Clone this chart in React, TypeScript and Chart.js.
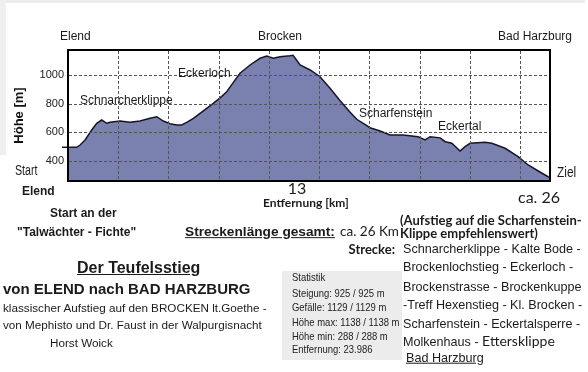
import React, { useEffect, useRef } from "react";
import { Chart, registerables } from "chart.js";

Chart.register(...registerables);

// ---- data ----
const distanceKm = [
  0, 0.43, 0.6, 0.85, 1.18, 1.43, 1.68, 1.93, 2.09, 2.59, 3.09, 3.58, 4.08, 4.42, 4.74, 5.08,
  5.41, 5.66, 5.91, 6.24, 6.57, 6.9, 7.23, 7.57, 7.9, 8.06, 8.56, 9.06, 9.56, 9.89, 10.22,
  10.55, 11.05, 11.2, 11.55, 12.05, 12.54, 13.04, 13.54, 14.04, 14.37, 15.03, 15.53, 16.03,
  16.67, 17.42, 17.77, 18.02, 18.52, 18.77, 19.1, 19.51, 19.76, 20.01, 20.76, 21.09, 21.75,
  22.4, 22.9, 23.4, 23.74, 23.89, 23.986,
];
const elevationM = [
  494, 494, 510, 545, 615, 662, 685, 662, 669, 678, 669, 678, 697, 708, 678, 659,
  650, 650, 669, 697, 732, 767, 802, 840, 883, 915, 1012, 1070, 1117, 1133, 1117,
  1128, 1135, 1138, 1070, 1035, 988, 907, 820, 740, 690, 631, 608, 580,
  580, 568, 545, 568, 560, 533, 522, 468, 498, 522, 529, 522, 487,
  428, 370, 328, 300, 288, 285,
];
const yTickValues = [400, 600, 800, 1000];
const xGridValues = [2.5, 5, 7.5, 10, 12.5, 15, 17.5, 20, 22.5];
const yMin = 258;
const yMax = 1175;
const xMax = 23.986;

const topPlaces = ["Elend", "Brocken", "Bad Harzburg"];
const profileLabels = ["Schnarcherklippe", "Eckerloch", "Scharfenstein", "Eckertal"];
const statLines = [
  "Statistik",
  "Steigung: 925 / 925 m",
  "Gefälle: 1129 / 1129 m",
  "Höhe max: 1138 / 1138 m",
  "Höhe min: 288 / 288 m",
  "Entfernung: 23.986",
];
const routeLines = [
  "Schnarcherklippe - Kalte Bode -",
  "Brockenlochstieg - Eckerloch -",
  "Brockenstrasse - Brockenkuppe",
  "-Treff Hexenstieg - Kl. Brocken -",
  "Scharfenstein - Eckertalsperre -",
  "Molkenhaus - ",
];
const introLines = [
  "klassischer Aufstieg auf den BROCKEN lt.Goethe -",
  "von Mephisto und Dr. Faust in der Walpurgisnacht",
  "Horst Woick",
];

const ARIAL = "'Liberation Sans', Arial, sans-serif";
const CALIBRI = "Lato, 'Liberation Sans', sans-serif";

type TxtProps = {
  x: number;
  y: number;
  size: number;
  bold?: boolean;
  family?: string;
  align?: "left" | "center" | "right";
  underline?: boolean;
  color?: string;
  sx?: number;
  children: React.ReactNode;
};

function Txt({ x, y, size, bold, family, align = "left", underline, color, sx = 1, children }: TxtProps) {
  const tx = align === "left" ? "0" : align === "center" ? "-50%" : "-100%";
  const origin = align === "left" ? "left" : align === "center" ? "center" : "right";
  return (
    <div
      style={{
        position: "absolute",
        left: x,
        top: y,
        transform: `translate(${tx}, -50%) scaleX(${sx})`,
        transformOrigin: `${origin} center`,
        fontSize: size,
        lineHeight: `${size}px`,
        fontFamily: family || ARIAL,
        fontWeight: bold ? 700 : 400,
        textDecoration: underline ? "underline" : "none",
        color: color || "#1b1b1b",
        whiteSpace: "nowrap",
      }}
    >
      {children}
    </div>
  );
}

export default function App() {
  const ref = useRef<HTMLCanvasElement>(null);

  useEffect(() => {
    const canvas = ref.current;
    if (!canvas) return;
    const framePlugin = {
      id: "profileFrame",
      afterDraw(chart: any) {
        const { ctx, chartArea, scales } = chart;
        const { left, right, top, bottom } = chartArea;
        ctx.save();
        // dotted grid drawn over the filled profile, one short stroke per dash
        ctx.lineWidth = 1;
        ctx.strokeStyle = "#555555";
        ctx.beginPath();
        yTickValues.forEach((v) => {
          const py = Math.round(scales.y.getPixelForValue(v)) + 0.5;
          for (let x = left + 1; x < right - 1; x += 5) {
            ctx.moveTo(x, py);
            ctx.lineTo(Math.min(x + 3, right - 1), py);
          }
        });
        xGridValues.forEach((v) => {
          const px = Math.round(scales.x.getPixelForValue(v)) + 0.5;
          for (let y = top + 1; y < bottom - 1; y += 5) {
            ctx.moveTo(px, y);
            ctx.lineTo(px, Math.min(y + 3, bottom - 1));
          }
        });
        ctx.stroke();
        // start marker stub left of the plot
        const y0 = scales.y.getPixelForValue(elevationM[0]);
        ctx.strokeStyle = "#16162b";
        ctx.lineWidth = 1.5;
        ctx.beginPath();
        ctx.moveTo(left - 6, y0);
        ctx.lineTo(left, y0);
        ctx.stroke();
        // frame
        ctx.strokeStyle = "#000";
        ctx.lineWidth = 2;
        ctx.strokeRect(left, top, right - left, bottom - top);
        ctx.restore();
      },
    };

    const chart = new Chart(canvas, {
      type: "line",
      data: {
        datasets: [
          {
            data: distanceKm.map((x, i) => ({ x, y: elevationM[i] })),
            borderColor: "#16162b",
            borderWidth: 1.5,
            backgroundColor: "#7b81ae",
            fill: "start",
            pointRadius: 0,
            tension: 0,
          },
        ],
      },
      options: {
        animation: false,
        responsive: false,
        devicePixelRatio: 1,
        layout: { padding: { top: 50, right: 38, bottom: 19, left: 0 } },
        plugins: { legend: { display: false }, tooltip: { enabled: false } },
        scales: {
          x: {
            type: "linear",
            min: 0,
            max: xMax,
            afterBuildTicks: (s: any) => {
              s.ticks = xGridValues.map((v) => ({ value: v }));
            },
            afterFit: (s: any) => {
              s.height = 0;
            },
            ticks: { display: false },
            grid: { display: false, drawTicks: false },
            border: { display: false },
          },
          y: {
            type: "linear",
            min: yMin,
            max: yMax,
            afterBuildTicks: (s: any) => {
              s.ticks = yTickValues.map((v) => ({ value: v }));
            },
            afterFit: (s: any) => {
              s.width = 68;
            },
            ticks: {
              font: { family: ARIAL, size: 11 },
              color: "#222",
              padding: 4,
              callback: (v: any) => String(v),
            },
            grid: { display: false, drawTicks: false },
            border: { display: false },
            title: {
              display: true,
              text: "Höhe [m]",
              font: { family: ARIAL, size: 13, weight: "bold" },
              color: "#111",
              padding: { top: 12, bottom: 0 },
            },
          },
        },
      },
      plugins: [framePlugin],
    } as any);
    return () => chart.destroy();
  }, []);

  return (
    <div
      style={{
        position: "fixed",
        left: 0,
        top: 0,
        width: 588,
        height: 372,
        background: "#fff",
        overflow: "hidden",
      }}
    >
      <div style={{ position: "absolute", left: 0, top: 0, width: 585, height: 3, background: "#ececec" }} />
      <div style={{ position: "absolute", left: 0, top: 0, width: 6, height: 155, background: "#efefef" }} />
      <div style={{ position: "absolute", left: 282, top: 271, width: 120, height: 89, background: "#ececec" }} />
      <canvas ref={ref} width={588} height={200} style={{ position: "absolute", left: 0, top: 0 }} />

      <Txt x={60} y={36} size={12}>{topPlaces[0]}</Txt>
      <Txt x={258} y={36} size={12}>{topPlaces[1]}</Txt>
      <Txt x={498} y={36} size={12}>{topPlaces[2]}</Txt>

      <Txt x={80} y={100} size={12}>{profileLabels[0]}</Txt>
      <Txt x={178} y={73} size={12}>{profileLabels[1]}</Txt>
      <Txt x={359} y={113} size={12}>{profileLabels[2]}</Txt>
      <Txt x={438} y={126} size={12}>{profileLabels[3]}</Txt>

      <Txt x={15} y={170} size={14} sx={0.76}>Start</Txt>
      <Txt x={22} y={191} size={12} bold>Elend</Txt>
      <Txt x={557} y={172} size={14} sx={0.85}>Ziel</Txt>
      <Txt x={297} y={188} size={16} family={CALIBRI} align="center">13</Txt>
      <Txt x={263} y={203} size={12} bold family={CALIBRI}>Entfernung [km]</Txt>
      <Txt x={518} y={197} size={16} family={CALIBRI}>ca. 26</Txt>

      <Txt x={50} y={213} size={12} bold>Start an der</Txt>
      <Txt x={17} y={232} size={12} bold>"Talwächter - Fichte"</Txt>

      <Txt x={77} y={268} size={16} bold underline>Der Teufelsstieg</Txt>
      <Txt x={3} y={288} size={15} bold>von ELEND nach BAD HARZBURG</Txt>
      <Txt x={3} y={308} size={11.7}>{introLines[0]}</Txt>
      <Txt x={3} y={325} size={11.7}>{introLines[1]}</Txt>
      <Txt x={50} y={343} size={11.7}>{introLines[2]}</Txt>

      <Txt x={185} y={232} size={13.7} bold underline>Streckenlänge gesamt:</Txt>
      <Txt x={340} y={232} size={13.5} family={CALIBRI}>ca. 26 Km</Txt>
      <Txt x={395} y={249} size={13} bold family={CALIBRI} align="right">Strecke:</Txt>

      {statLines.map((s, i) => (
        <Txt key={s} x={292} y={[277, 293, 307, 322, 336, 349][i]} size={11} sx={0.86} color="#222">
          {s}
        </Txt>
      ))}

      <Txt x={400} y={220} size={13} bold family={CALIBRI}>(Aufstieg auf die Scharfenstein-</Txt>
      <Txt x={400} y={233} size={13} bold family={CALIBRI}>Klippe empfehlenswert)</Txt>

      {routeLines.map((s, i) => (
        <Txt key={s} x={403} y={[249, 267, 287, 305, 324, 342][i]} size={12.6}>
          {s}
          {i === routeLines.length - 1 ? <span style={{ fontFamily: CALIBRI, fontSize: 14 }}>Ettersklippe</span> : null}
        </Txt>
      ))}
      <Txt x={406} y={358} size={12.6} underline>Bad Harzburg</Txt>
    </div>
  );
}
